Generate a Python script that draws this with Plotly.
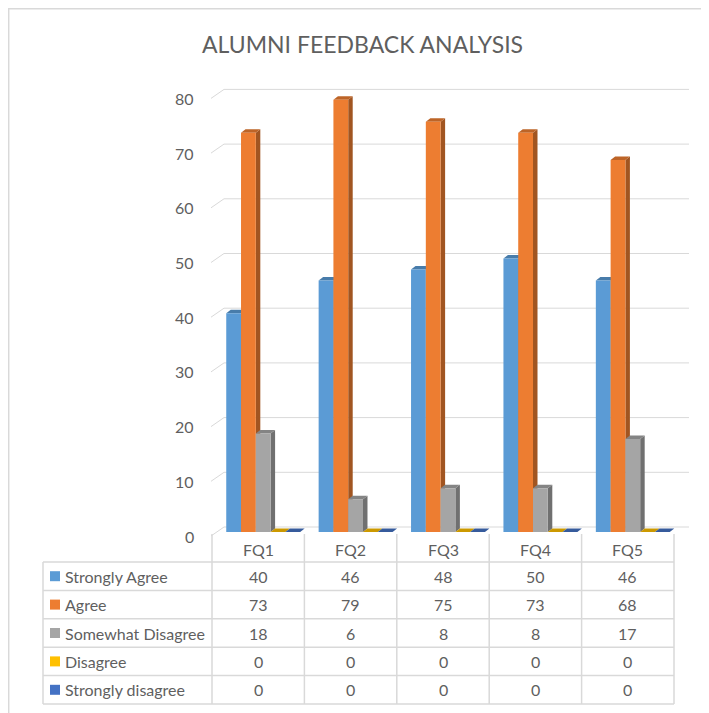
import plotly.graph_objects as go

# ---------------- data ----------------
categories = ["FQ1", "FQ2", "FQ3", "FQ4", "FQ5"]
series_names = ["Strongly Agree", "Agree", "Somewhat Disagree", "Disagree", "Strongly disagree"]
strongly_agree = [40, 46, 48, 50, 46]
agree = [73, 79, 75, 73, 68]
somewhat_disagree = [18, 6, 8, 8, 17]
disagree = [0, 0, 0, 0, 0]
strongly_disagree = [0, 0, 0, 0, 0]
series_values = [strongly_agree, agree, somewhat_disagree, disagree, strongly_disagree]
y_ticks = [0, 10, 20, 30, 40, 50, 60, 70, 80]
title_text = "ALUMNI FEEDBACK ANALYSIS"

# ---------------- style ----------------
colors = ["#5B9BD5", "#ED7D31", "#A5A5A5", "#FFC000", "#4472C4"]
TXT = "#5f5f5f"
GRID = "#D9D9D9"
FONT = "Lato"
W, H = 709, 713
OFF = 8  # page body margin


def pxx(x):
    return (x - OFF) / W


def pxy(y):
    return 1 - (y - OFF) / H


def shade(hexcol, f):
    h = hexcol.lstrip("#")
    r, g, b = (int(h[i:i + 2], 16) for i in (0, 2, 4))
    return "rgb(%d,%d,%d)" % (int(r * f), int(g * f), int(b * f))


# plot geometry (screen pixels)
X_LEFT, X_RIGHT = 217, 679          # x range [-0.5, 4.5]
Y0_PIX, UNIT = 532, 5.47            # pixel of value 0, pixels per unit
Y_MAX = 82
y_top_pix = Y0_PIX - Y_MAX * UNIT
CAT_PIX = (X_RIGHT - X_LEFT) / 5.0

n_series = len(series_values)
group_w = 0.8
bar_w = group_w / n_series
dx = 4.5 / CAT_PIX
dy = 3.5 / UNIT

fig = go.Figure()
xs = list(range(len(categories)))
for k, (name, vals) in enumerate(zip(series_names, series_values)):
    fig.add_trace(go.Bar(
        x=xs, y=vals, name=name,
        width=bar_w, offset=-group_w / 2 + k * bar_w,
        marker=dict(color=colors[k], line=dict(width=0)),
        showlegend=False,
    ))

shapes = []
annotations = []

# frame
shapes.append(dict(type="line", xref="paper", yref="paper",
                   x0=0.001, x1=0.001, y0=1, y1=0,
                   line=dict(color=GRID, width=1.5), layer="below"))
shapes.append(dict(type="line", xref="paper", yref="paper",
                   x0=0, x1=1, y0=0.999, y1=0.999,
                   line=dict(color=GRID, width=1.5), layer="below"))

# back-wall gridlines + side stubs, tick labels
for v in y_ticks:
    p = Y0_PIX - v * UNIT
    shapes.append(dict(type="line", xref="paper", yref="paper",
                       x0=pxx(224), x1=pxx(689), y0=pxy(p - 5), y1=pxy(p - 5),
                       line=dict(color=GRID, width=1), layer="below"))
    shapes.append(dict(type="line", xref="paper", yref="paper",
                       x0=pxx(211), x1=pxx(224), y0=pxy(p + 4), y1=pxy(p - 5),
                       line=dict(color=GRID, width=1), layer="below"))
    annotations.append(dict(xref="paper", yref="paper", x=pxx(196), y=pxy(p + 4),
                            xanchor="right", yanchor="middle", showarrow=False,
                            text=str(v), font=dict(family=FONT, size=16, color=TXT)))

# 3D faces: sides first, then tops
sides, tops = [], []
for k, vals in enumerate(series_values):
    for i, v in enumerate(vals):
        xl = i - group_w / 2 + k * bar_w
        xr = xl + bar_w
        if v > 0:
            sides.append(dict(type="path", xref="x", yref="y", layer="below",
                              path="M %f,%f L %f,%f L %f,%f L %f,%f Z" % (
                                  xr, 0, xr + dx, dy, xr + dx, v + dy, xr, v),
                              fillcolor=shade(colors[k], 0.68), line=dict(width=0)))
        tops.append(dict(type="path", xref="x", yref="y", layer="below",
                         path="M %f,%f L %f,%f L %f,%f L %f,%f Z" % (
                             xl, v, xl + dx, v + dy, xr + dx, v + dy, xr, v),
                         fillcolor=shade(colors[k], 0.8), line=dict(width=0)))
shapes += sides + tops

# data table
col_left = 212
col_w = 92.4
label_left = 43
head_top = 534
row_top = 562
row_h = 28.4
n_rows = len(series_names)
table_bottom = row_top + n_rows * row_h
col_bounds = [col_left + j * col_w for j in range(len(categories) + 1)]
table_right = col_bounds[-1]

for xb in col_bounds:
    shapes.append(dict(type="line", xref="paper", yref="paper",
                       x0=pxx(xb), x1=pxx(xb), y0=pxy(head_top), y1=pxy(table_bottom),
                       line=dict(color=GRID, width=1.5)))
shapes.append(dict(type="line", xref="paper", yref="paper",
                   x0=pxx(label_left), x1=pxx(label_left), y0=pxy(row_top), y1=pxy(table_bottom),
                   line=dict(color=GRID, width=1.5)))
for r in range(n_rows + 1):
    yy = row_top + r * row_h
    shapes.append(dict(type="line", xref="paper", yref="paper",
                       x0=pxx(label_left), x1=pxx(table_right), y0=pxy(yy), y1=pxy(yy),
                       line=dict(color=GRID, width=1.5)))

for j, c in enumerate(categories):
    cx = col_bounds[j] + col_w / 2
    annotations.append(dict(xref="paper", yref="paper", x=pxx(cx), y=pxy((head_top + row_top) / 2 + 1),
                            xanchor="center", yanchor="middle", showarrow=False,
                            text=c, font=dict(family=FONT, size=16, color=TXT)))

for r, (name, vals) in enumerate(zip(series_names, series_values)):
    cy = row_top + (r + 0.5) * row_h
    shapes.append(dict(type="rect", xref="paper", yref="paper",
                       x0=pxx(50), x1=pxx(60), y0=pxy(cy - 5), y1=pxy(cy + 5),
                       fillcolor=colors[r], line=dict(width=0)))
    annotations.append(dict(xref="paper", yref="paper", x=pxx(63), y=pxy(cy),
                            xanchor="left", yanchor="middle", showarrow=False,
                            text=name, font=dict(family=FONT, size=16, color=TXT)))
    for j, v in enumerate(vals):
        cx = col_bounds[j] + col_w / 2
        annotations.append(dict(xref="paper", yref="paper", x=pxx(cx), y=pxy(cy),
                                xanchor="center", yanchor="middle", showarrow=False,
                                text=str(v), font=dict(family=FONT, size=16, color=TXT)))

# title
annotations.append(dict(xref="paper", yref="paper", x=pxx(362), y=pxy(44),
                        xanchor="center", yanchor="middle", showarrow=False,
                        text=title_text, font=dict(family=FONT, size=23, color=TXT)))

fig.update_layout(
    width=W, height=H,
    margin=dict(l=0, r=0, t=0, b=0),
    paper_bgcolor="white",
    plot_bgcolor="rgba(0,0,0,0)",
    barmode="overlay",
    shapes=shapes,
    annotations=annotations,
    xaxis=dict(domain=[pxx(X_LEFT), pxx(X_RIGHT)], range=[-0.5, 4.5],
               visible=False, fixedrange=True),
    yaxis=dict(domain=[pxy(Y0_PIX), pxy(y_top_pix)], range=[0, Y_MAX],
               visible=False, fixedrange=True),
    showlegend=False,
)

fig.write_html("out.html")
